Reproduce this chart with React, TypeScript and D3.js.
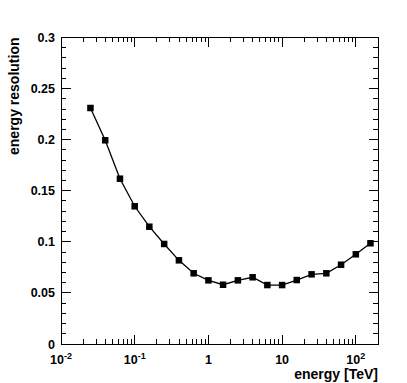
import React from "react";
import * as d3 from "d3";

const energies = [0.0251, 0.0398, 0.0631, 0.1, 0.158, 0.251, 0.398, 0.631, 1.0, 1.58, 2.51, 3.98, 6.31, 10, 15.8, 25.1, 39.8, 63.1, 100, 158];
const resolution = [0.231, 0.1994, 0.1618, 0.1348, 0.1148, 0.0979, 0.0819, 0.0692, 0.0623, 0.058, 0.0623, 0.0653, 0.0577, 0.0577, 0.0626, 0.0682, 0.0692, 0.0776, 0.0878, 0.0986];
const yMajorTicks = [0, 0.05, 0.1, 0.15, 0.2, 0.25, 0.3];
const yTickLabels = ["0", "0.05", "0.1", "0.15", "0.2", "0.25", "0.3"];
const xMajorTicks = [0.01, 0.1, 1, 10, 100];
const xTickBase = ["10", "10", "1", "10", "10"];
const xTickExp = ["-2", "-1", "", "", "2"];
const xTitle = "energy [TeV]";
const yTitle = "energy resolution";

export default function App() {
  const W = 407, H = 383;
  const L = 61, R = 378, T = 37.5, B = 344;
  const x = d3.scaleLog().domain([0.01, 200]).range([L, R]);
  const y = d3.scaleLinear().domain([0, 0.3]).range([B, T]);
  const font = "'Liberation Sans', Arial, Helvetica, sans-serif";

  const yMinor: number[] = d3.range(0, 31).map((i) => i / 100).filter((v) => Math.round(v * 100) % 5 !== 0);
  const xMinor: number[] = [];
  for (const dec of [0.01, 0.1, 1, 10, 100]) {
    for (let m = 2; m <= 9; m++) {
      const v = dec * m;
      if (v <= 200) xMinor.push(v);
    }
  }
  const majY = 9.5, minY = 4.7, majX = 9.2, minX = 4.6;
  const line = d3.line<number>().x((d, i) => x(energies[i])).y((d) => y(d));
  const ms = 6.5;

  return (
    <svg width={W} height={H} style={{ position: "absolute", left: 0, top: 0 }}>
      <rect x={0} y={0} width={W} height={H} fill="#fff" />
      <g stroke="#000" strokeWidth={1} fill="none" shapeRendering="crispEdges">
        <rect x={L} y={T} width={R - L} height={B - T} />
        {yMajorTicks.map((v) => (
          <g key={"ym" + v}>
            <line x1={L} x2={L + majY} y1={y(v)} y2={y(v)} />
            <line x1={R} x2={R - majY} y1={y(v)} y2={y(v)} />
          </g>
        ))}
        {yMinor.map((v) => (
          <g key={"yn" + v}>
            <line x1={L} x2={L + minY} y1={y(v)} y2={y(v)} />
            <line x1={R} x2={R - minY} y1={y(v)} y2={y(v)} />
          </g>
        ))}
        {xMajorTicks.map((v) => (
          <g key={"xm" + v}>
            <line x1={x(v)} x2={x(v)} y1={B} y2={B - majX} />
            <line x1={x(v)} x2={x(v)} y1={T} y2={T + majX} />
          </g>
        ))}
        {xMinor.map((v) => (
          <g key={"xn" + v}>
            <line x1={x(v)} x2={x(v)} y1={B} y2={B - minX} />
            <line x1={x(v)} x2={x(v)} y1={T} y2={T + minX} />
          </g>
        ))}
      </g>
      <g fontFamily={font} fontWeight="bold" fontSize={12.5} fill="#000">
        {yMajorTicks.map((v, i) => (
          <text key={"yl" + v} x={L - 6} y={y(v)} dy="0.36em" textAnchor="end">
            {yTickLabels[i]}
          </text>
        ))}
        {xMajorTicks.map((v, i) => (
          <text key={"xl" + v} x={x(v)} y={363.5} textAnchor="middle">
            {xTickBase[i]}
            {xTickExp[i] && (
              <tspan fontSize={9} dy={-5}>
                {xTickExp[i]}
              </tspan>
            )}
          </text>
        ))}
      </g>
      <g fontFamily={font} fontWeight="bold" fontSize={14} fill="#000">
        <text x={R} y={378.5} textAnchor="end">{xTitle}</text>
        <text transform={`translate(19,${T}) rotate(-90)`} textAnchor="end">{yTitle}</text>
      </g>
      <path d={line(resolution) || ""} fill="none" stroke="#000" strokeWidth={1.3} />
      {resolution.map((v, i) => (
        <rect key={"p" + i} x={x(energies[i]) - ms / 2} y={y(v) - ms / 2} width={ms} height={ms} fill="#000" />
      ))}
    </svg>
  );
}
